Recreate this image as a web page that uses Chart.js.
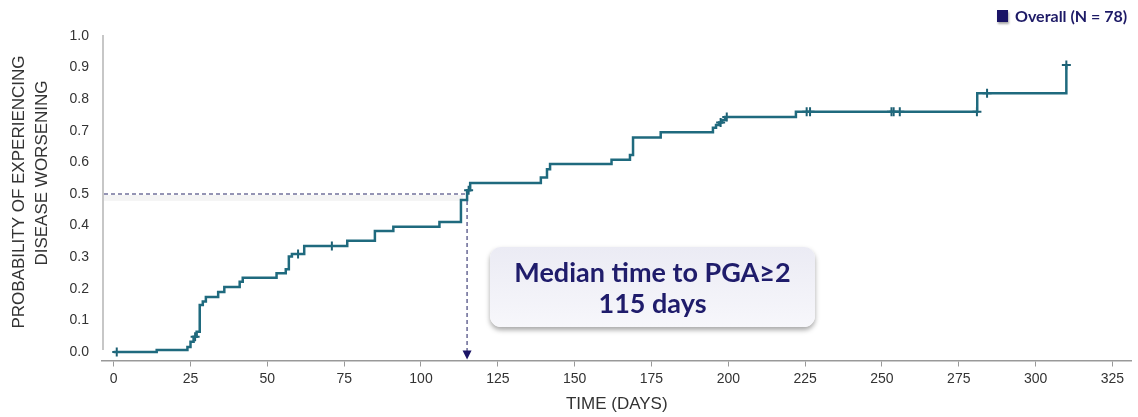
<!DOCTYPE html>
<html>
<head>
<meta charset="utf-8">
<script src="https://cdn.jsdelivr.net/npm/chart.js@4.4.1/dist/chart.umd.min.js"></script>
<style>
  html,body{margin:0;padding:0;background:#fff;}
  #wrap{position:relative;width:1138px;height:417px;overflow:hidden;}
  #km{position:absolute;left:0;top:0;}
  .legend{position:absolute;left:997px;top:6px;font:700 16px Lato,"Open Sans",sans-serif;color:#1d1a66;display:flex;align-items:center;}
  .legend .sw{display:inline-block;width:11px;height:12px;background:#1a1466;margin-right:7px;box-shadow:1px 2px 2px rgba(0,0,0,0.35);}
  .callout{position:absolute;left:490px;top:247px;width:325px;height:80px;border-radius:11px;
    background:linear-gradient(#ebebf4,#f7f7fb);box-shadow:0 3px 5px rgba(0,0,0,0.35);
    display:flex;flex-direction:column;justify-content:center;align-items:center;
    font:700 27px Lato,"Open Sans",sans-serif;color:#1f1c6b;line-height:31px;}
</style>
</head>
<body>
<div id="wrap">
  <canvas id="km" width="1138" height="417"></canvas>
  <div class="legend"><span class="sw"></span>Overall (N = 78)</div>
  <div class="callout"><div>Median time to PGA≥2</div><div>115 days</div></div>
</div>
<script>
// Kaplan-Meier cumulative incidence: event times and probability after each step
const days  = [0, 14, 24, 25, 26, 27, 28, 29, 30, 34, 36, 41, 42, 53, 56, 57, 58, 62, 76, 85, 91, 106, 113, 115, 116,
               139, 141, 142, 162, 168, 169, 178, 195, 196, 197, 198, 199, 222, 281, 310];
const probs = [0, 0.006, 0.016, 0.032, 0.048, 0.064, 0.149, 0.16, 0.174, 0.19, 0.206, 0.222, 0.235, 0.249, 0.262, 0.302, 0.31, 0.335, 0.352, 0.383, 0.396, 0.411, 0.481, 0.512, 0.535,
               0.552, 0.578, 0.595, 0.608, 0.623, 0.679, 0.695, 0.71, 0.718, 0.726, 0.734, 0.744, 0.76, 0.819, 0.908];

// censored observations (+ marks)
const censorDays  = [1, 26.5, 60, 71, 115.5, 197.5, 199.5, 225.5, 226.6, 253.1, 253.8, 255.8, 280.9, 284.2, 310];
const censorProbs = [0, 0.048, 0.31, 0.335, 0.512, 0.726, 0.744, 0.76, 0.76, 0.76, 0.76, 0.76, 0.76, 0.819, 0.908];

const xTicks = [0, 25, 50, 75, 100, 125, 150, 175, 200, 225, 250, 275, 300, 325];
const yTicks = [0, 0.1, 0.2, 0.3, 0.4, 0.5, 0.6, 0.7, 0.8, 0.9, 1.0];

const medianDay = 115;
const medianProb = 0.5;

const teal = '#1f6a7e';
const guide = '#72729c';

// y axis line, dashed median guides, arrow head and the rotated y title
const medianGuide = {
  id: 'medianGuide',
  beforeDatasetsDraw(chart){
    const {ctx, chartArea} = chart;
    const x = chart.scales.x, y = chart.scales.y;
    const mx = x.getPixelForValue(medianDay), my = y.getPixelForValue(medianProb);
    const x0 = chartArea.left;

    ctx.save();
    // y axis line (stops short of the x axis)
    ctx.strokeStyle = '#b4b4b4';
    ctx.lineWidth = 1.5;
    ctx.beginPath();
    ctx.moveTo(x0 + 1, chartArea.top - 1);
    ctx.lineTo(x0 + 1, y.getPixelForValue(0.006));
    ctx.stroke();

    // faint band under the horizontal guide
    ctx.fillStyle = 'rgba(0,0,0,0.045)';
    ctx.fillRect(x0 + 2, my + 1, mx - x0 - 6, 6);

    ctx.strokeStyle = guide;
    ctx.lineWidth = 1.6;
    ctx.setLineDash([4, 3]);
    ctx.beginPath();
    ctx.moveTo(x0 + 2, my);
    ctx.lineTo(mx, my);
    ctx.moveTo(mx, my);
    ctx.lineTo(mx, chartArea.bottom - 8);
    ctx.stroke();
    ctx.restore();
  },
  afterDatasetsDraw(chart){
    const {ctx, chartArea} = chart;
    const mx = chart.scales.x.getPixelForValue(medianDay);
    ctx.save();
    ctx.fillStyle = '#1a1466';
    ctx.beginPath();
    ctx.moveTo(mx - 4.5, chartArea.bottom - 10);
    ctx.lineTo(mx + 4.5, chartArea.bottom - 10);
    ctx.lineTo(mx, chartArea.bottom - 1);
    ctx.closePath();
    ctx.fill();

    // y title, two lines
    ctx.fillStyle = '#333';
    ctx.font = '17px "Liberation Sans", Arial, sans-serif';
    ctx.textAlign = 'center';
    ctx.textBaseline = 'middle';
    ctx.translate(19, 192);
    ctx.rotate(-Math.PI / 2);
    ctx.fillText('PROBABILITY OF EXPERIENCING', 0, 0);
    ctx.fillText('DISEASE WORSENING', 19, 23);
    ctx.restore();
  }
};

new Chart(document.getElementById('km'), {
  type: 'line',
  data: {
    datasets: [
      {
        label: 'Overall (N = 78)',
        data: days.map((d, i) => ({x: d, y: probs[i]})),
        stepped: 'before',
        borderColor: teal,
        borderWidth: 2.5,
        pointRadius: 0,
        fill: false
      },
      {
        type: 'scatter',
        label: 'Censored',
        data: censorDays.map((d, i) => ({x: d, y: censorProbs[i]})),
        pointStyle: 'cross',
        pointRadius: 4.5,
        borderWidth: 2,
        borderColor: '#1c5f73',
        showLine: false
      }
    ]
  },
  options: {
    responsive: false,
    animation: false,
    layout: {padding: {top: 36, right: 6, left: 0, bottom: 0}},
    plugins: {legend: {display: false}, tooltip: {enabled: false}},
    scales: {
      x: {
        type: 'linear',
        min: -3.8,
        max: 331.2,
        afterBuildTicks: s => { s.ticks = xTicks.map(v => ({value: v})); },
        afterFit: s => { s.height = 56.5; },
        grid: {drawOnChartArea: false, drawTicks: true, tickLength: 6, color: '#999'},
        border: {color: '#999', width: 1.5},
        ticks: {color: '#333', font: {family: '"Liberation Sans", Arial', size: 14}, padding: 4, maxRotation: 0},
        title: {display: true, text: 'TIME (DAYS)', color: '#333',
                font: {family: '"Liberation Sans", Arial', size: 17}, padding: {top: 0, bottom: 2}}
      },
      y: {
        min: -0.027,
        max: 1.0,
        afterBuildTicks: s => { s.ticks = yTicks.map(v => ({value: v})); },
        afterFit: s => { s.width = 102; },
        grid: {display: false},
        border: {display: false},
        ticks: {color: '#333', font: {family: '"Liberation Sans", Arial', size: 14}, padding: 5,
                callback: v => v.toFixed(1)}
      }
    }
  },
  plugins: [medianGuide]
});
</script>
</body>
</html>
